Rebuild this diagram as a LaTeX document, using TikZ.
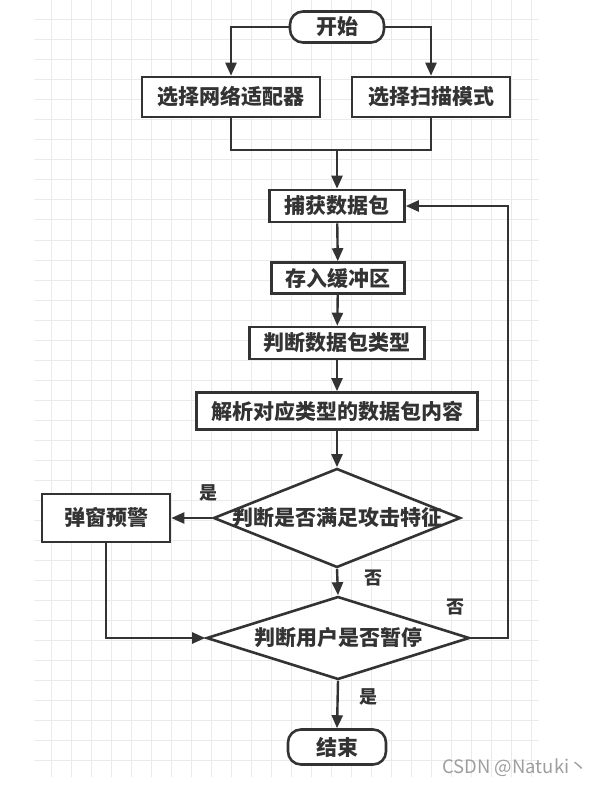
\documentclass[tikz,border=0pt]{standalone}
\usepackage{fontspec}
\setmainfont{Noto Sans CJK SC}
\usetikzlibrary{shapes.geometric, arrows.meta, positioning}
\usepackage{xcolor}
\definecolor{ink}{HTML}{333333}
\definecolor{gridline}{HTML}{EAEAEA}
\tikzstyle{arrow} = [line width=2.4pt, draw=ink, -{Triangle[length=13pt,width=11pt]}]
\tikzstyle{line} = [line width=2.4pt, draw=ink]

\begin{document}
\begin{tikzpicture}[x=1pt, y=-1pt, every node/.style={font=\fontsize{21}{25}\selectfont\bfseries, text=ink, align=center}]
    % Define styles with \tikzset
    \tikzset{
        box/.style={rectangle, draw=ink, line width=2.6pt, fill=white, inner sep=0pt},
        term_box/.style={box, rounded corners=13pt},
        decision/.style={diamond, draw=ink, line width=2.6pt, fill=white, inner sep=0pt},
        tag/.style={font=\fontsize{18}{21}\selectfont\bfseries}
    }
    \useasboundingbox (0,0) rectangle (604,786);

    % --- BACKGROUND GRID ---
    \foreach \y in {0,20,...,760} \draw[gridline, line width=1pt] (34,\y) -- (539,\y);
    \foreach \x in {51,71,...,531} \draw[gridline, line width=1pt] (\x,0) -- (\x,777);

    % Start
    \node (start) [term_box, minimum width=94pt, minimum height=31pt] at (337,27) {开始};

    % Choose adapter / scan mode
    \node (net) [box, minimum width=178pt, minimum height=40pt] at (231,97) {选择网络适配器};
    \node (mode) [box, minimum width=158pt, minimum height=40pt] at (431,97) {选择扫描模式};
    \coordinate (merge) at (337,150);

    % Capture -> buffer -> type -> parse
    \node (cap) [box, minimum width=135pt, minimum height=32pt] at (337,206) {捕获数据包};
    \node (buf) [box, minimum width=133pt, minimum height=31pt] at (338,278) {存入缓冲区};
    \node (kind) [box, minimum width=175pt, minimum height=32pt] at (337,343) {判断数据包类型};
    \node (parse) [box, minimum width=281pt, minimum height=37pt] at (337,411) {解析对应类型的数据包内容};

    % Decisions
    \node (atk) [decision, minimum width=247pt, minimum height=99pt] at (337,518) {\makebox[0pt]{判断是否满足攻击特征}};
    \node (warn) [box, minimum width=128pt, minimum height=48pt] at (106,518) {弹窗预警};
    \node (pause) [decision, minimum width=263pt, minimum height=83pt] at (338,638) {\makebox[0pt]{判断用户是否暂停}};
    \coordinate (loop) at (508,638);

    % End
    \node (stop) [term_box, minimum width=98pt, minimum height=35pt] at (337,747) {结束};

    % Connections
    \draw[arrow] (start.west) -| (net.north);
    \draw[arrow] (start.east) -| (mode.north);
    \draw[line] (net.south) |- (merge) -| (mode.south);
    \draw[arrow] (merge) -- (cap);
    \draw[arrow] (cap) -- (buf);
    \draw[arrow] (buf) -- (kind);
    \draw[arrow] (kind) -- (parse);
    \draw[arrow] (parse) -- (atk);
    \draw[arrow] (atk.west) -- (warn.east);
    \draw[arrow] (atk.south) -- (pause.north);
    \draw[arrow] (warn.south) |- (pause.west);
    \draw[arrow] (pause.east) -- (loop) |- (cap.east);
    \draw[arrow] (pause.south) -- (stop.north);

    % Branch labels
    \node (yes1) [tag] at (208,493) {是};
    \node (no1) [tag] at (373,578) {否};
    \node (no2) [tag] at (455,607) {否};
    \node (yes2) [tag] at (368,697) {是};

    % watermark
    \node (mark) [font=\fontsize{18.5}{21}\selectfont, text=black!38] at (515,768) {CSDN @Natuki丶};
\end{tikzpicture}
\end{document}
